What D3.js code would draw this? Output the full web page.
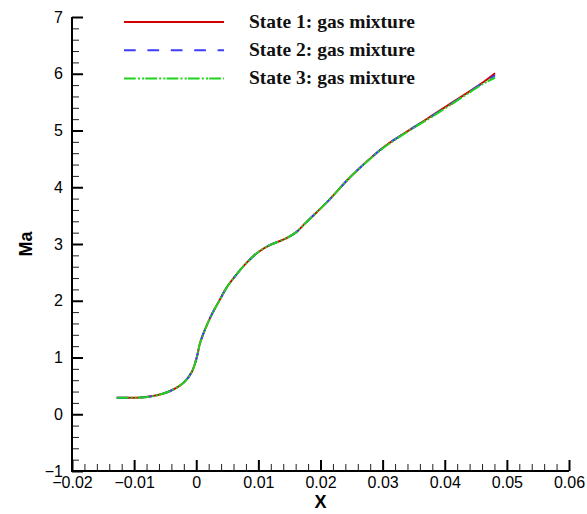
<!DOCTYPE html>
<html>
<head>
<meta charset="utf-8">
<script src="https://cdn.jsdelivr.net/npm/d3@7"></script>
<style>
  html, body { margin: 0; padding: 0; background: #fff; }
  svg { display: block; }
</style>
</head>
<body>
<svg id="chart" width="587" height="514"></svg>
<script>
// Axial position along the nozzle and Mach number for each gas state
const xPos = [-0.0128, -0.0110, -0.0090, -0.0070, -0.0042, -0.0020, -0.0007, 0.0001,
  0.0006, 0.0014, 0.0025, 0.0036, 0.0050, 0.0066, 0.0082, 0.0100, 0.0120, 0.0141,
  0.0160, 0.0175, 0.0194, 0.0216, 0.0248, 0.0302, 0.0329, 0.0361, 0.0382, 0.0430,
  0.0463, 0.0481];
const maState1 = [0.29, 0.29, 0.295, 0.32, 0.41, 0.56, 0.75, 1.01,
  1.25, 1.49, 1.76, 1.98, 2.25, 2.48, 2.68, 2.86, 2.99, 3.08,
  3.20, 3.36, 3.56, 3.80, 4.18, 4.71, 4.91, 5.13, 5.28, 5.62,
  5.86, 6.01];
const maState2 = [0.29, 0.29, 0.295, 0.32, 0.41, 0.56, 0.75, 1.01,
  1.25, 1.49, 1.76, 1.98, 2.25, 2.48, 2.68, 2.86, 2.99, 3.08,
  3.20, 3.36, 3.56, 3.80, 4.18, 4.71, 4.91, 5.13, 5.27, 5.61,
  5.85, 5.97];
const maState3 = [0.29, 0.29, 0.295, 0.32, 0.41, 0.56, 0.75, 1.01,
  1.25, 1.49, 1.76, 1.98, 2.25, 2.48, 2.68, 2.86, 2.99, 3.08,
  3.20, 3.36, 3.56, 3.80, 4.18, 4.70, 4.90, 5.12, 5.26, 5.60,
  5.83, 5.93];

const seriesNames = ["State 1: gas mixture", "State 2: gas mixture", "State 3: gas mixture"];
const seriesColors = ["#d40000", "#3c3cff", "#1fd21f"];
const seriesDashes = [null, "11.7 11.7", "11.7 2.2 2 2.2 2 1.2"];

const xTicks = [-0.02, -0.01, 0, 0.01, 0.02, 0.03, 0.04, 0.05, 0.06];
const yTicks = [-1, 0, 1, 2, 3, 4, 5, 6, 7];

const svg = d3.select("#chart");
const x = d3.scaleLinear().domain([-0.02, 0.06]).range([72, 569]);
const y = d3.scaleLinear().domain([-1, 7]).range([471, 17]);

const xMinor = d3.range(-0.02, 0.0600001, 0.002).filter(v => Math.abs(Math.round(v * 100) - v * 100) > 1e-6);
const yMinor = d3.range(-1, 7.00001, 0.2).filter(v => Math.abs(Math.round(v) - v) > 1e-6);

const fmtX = d => (d === 0 ? "0" : d3.format("")(+d.toFixed(2)));

// Minor ticks (no labels)
svg.append("g")
  .attr("transform", `translate(0,${y(-1)})`)
  .call(d3.axisBottom(x).tickValues(xMinor).tickSize(-7).tickFormat(""))
  .call(g => g.select(".domain").remove())
  .call(g => g.selectAll("line").attr("stroke", "#222").attr("stroke-width", 1));
svg.append("g")
  .attr("transform", `translate(${x(-0.02)},0)`)
  .call(d3.axisLeft(y).tickValues(yMinor).tickSize(-7).tickFormat(""))
  .call(g => g.select(".domain").remove())
  .call(g => g.selectAll("line").attr("stroke", "#222").attr("stroke-width", 1));

// Major axes
const xAxis = svg.append("g")
  .attr("transform", `translate(0,${y(-1)})`)
  .call(d3.axisBottom(x).tickValues(xTicks).tickSize(-11).tickSizeOuter(0).tickPadding(6).tickFormat(fmtX));
const yAxis = svg.append("g")
  .attr("transform", `translate(${x(-0.02)},0)`)
  .call(d3.axisLeft(y).tickValues(yTicks).tickSize(-11).tickSizeOuter(0).tickPadding(9));

[xAxis, yAxis].forEach(g => {
  g.select(".domain").attr("stroke", "#000").attr("stroke-width", 2);
  g.selectAll(".tick line").attr("stroke", "#000").attr("stroke-width", 2);
  g.selectAll("text").attr("fill", "#000")
    .style("font-family", "'Liberation Sans', Arial, sans-serif").style("font-size", "16px");
});
// axis lines extend a touch past the corner so they join cleanly
xAxis.select(".domain").attr("d", `M${x(-0.02) - 1},0H${x(0.06)}`);
yAxis.select(".domain").attr("d", `M0,${y(7)}V${y(-1) + 1}`);

// Axis titles
svg.append("text")
  .attr("x", x(0.02)).attr("y", 508)
  .attr("text-anchor", "middle")
  .style("font-family", "'Liberation Sans', Arial, sans-serif")
  .style("font-size", "18px").style("font-weight", "bold")
  .text("X");
svg.append("text")
  .attr("transform", `translate(32,${y(3)}) rotate(-90)`)
  .attr("text-anchor", "middle")
  .style("font-family", "'Liberation Sans', Arial, sans-serif")
  .style("font-size", "18px").style("font-weight", "bold")
  .text("Ma");

// Curves
const line = d3.line().x(d => x(d[0])).y(d => y(d[1])).curve(d3.curveCatmullRom.alpha(0.5));
[maState1, maState2, maState3].forEach((vals, i) => {
  svg.append("path")
    .datum(xPos.map((xv, j) => [xv, vals[j]]))
    .attr("d", line)
    .attr("fill", "none")
    .attr("stroke", seriesColors[i])
    .attr("stroke-width", 2)
    .attr("stroke-dasharray", seriesDashes[i]);
});

// Legend
const legend = svg.append("g");
seriesNames.forEach((name, i) => {
  const ly = 22 + i * 28.2;
  legend.append("line")
    .attr("x1", 124).attr("x2", 224).attr("y1", ly).attr("y2", ly)
    .attr("stroke", seriesColors[i]).attr("stroke-width", 2)
    .attr("stroke-dasharray", seriesDashes[i]);
  legend.append("text")
    .attr("x", 249).attr("y", ly + 5.5)
    .style("font-family", "'Liberation Serif', 'Times New Roman', serif")
    .style("font-size", "19.5px").style("font-weight", "bold")
    .attr("fill", "#111")
    .text(name);
});
</script>
</body>
</html>
